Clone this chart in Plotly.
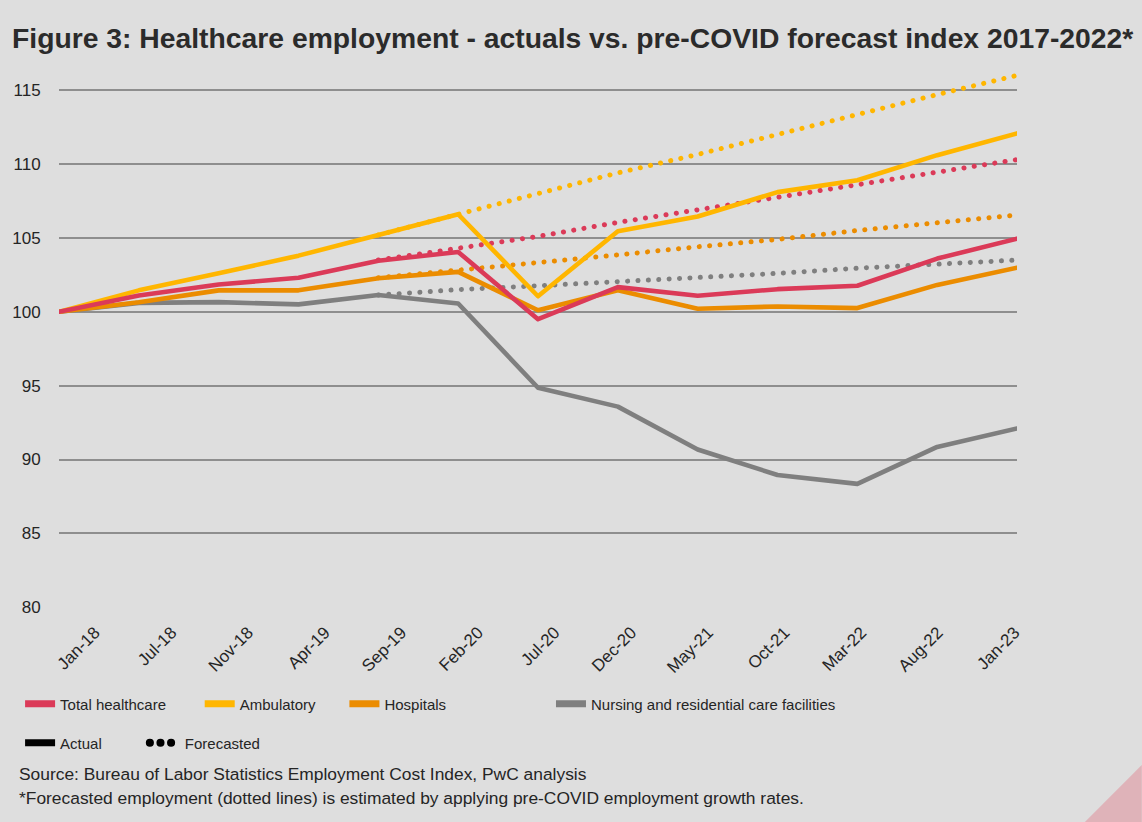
import plotly.graph_objects as go

# ---------------- data ----------------
categories = ["Jan-18", "Jul-18", "Nov-18", "Apr-19", "Sep-19", "Feb-20", "Jul-20",
              "Dec-20", "May-21", "Oct-21", "Mar-22", "Aug-22", "Jan-23"]

total_actual = [100.0, 101.1, 101.85, 102.3, 103.45, 104.05, 99.5, 101.67, 101.08, 101.53, 101.76, 103.6, 104.95]
ambulatory_actual = [100.0, 101.45, 102.6, 103.8, 105.2, 106.6, 101.05, 105.45, 106.45, 108.1, 108.9, 110.6, 112.07]
hospitals_actual = [100.0, 100.65, 101.45, 101.45, 102.27, 102.7, 100.1, 101.45, 100.2, 100.36, 100.25, 101.82, 102.98]
nursing_actual = [100.0, 100.6, 100.65, 100.5, 101.13, 100.56, 94.86, 93.58, 90.68, 88.95, 88.35, 90.85, 92.1]

total_forecast = [None, None, None, None, 103.5, 104.3, 105.1, 106.05, 106.9, 107.75, 108.65, 109.5, 110.3]
ambulatory_forecast = [None, None, None, None, 105.2, 106.6, 108.05, 109.4, 110.65, 112.0, 113.4, 114.7, 116.0]
hospitals_forecast = [None, None, None, None, 102.3, 102.8, 103.3, 103.85, 104.4, 104.9, 105.5, 106.05, 106.55]
nursing_forecast = [None, None, None, None, 101.13, 101.5, 101.76, 102.03, 102.34, 102.6, 102.95, 103.24, 103.5]

series_names = ["Total healthcare", "Ambulatory", "Hospitals", "Nursing and residential care facilities"]
y_ticks = [80, 85, 90, 95, 100, 105, 110, 115]

# ---------------- styling ----------------
RED, YEL, ORG, GRY = "#DB3A58", "#FFB600", "#EB8C00", "#7F7F7F"
BG = "#DEDEDE"
FONT = "Liberation Sans, Arial, Helvetica, sans-serif"
TXT = "#252525"

W, H = 1142, 822
L, R_EDGE = 57, 1030          # paper area (px)
T, B_EDGE = 67.8, 608
PW, PH = R_EDGE - L, B_EDGE - T
X_RIGHT = 1017                # right end of the data area (px)


def px(v):
    return (v - L) / PW


def py(v):
    return (B_EDGE - v) / PH


fig = go.Figure()

n = len(categories)
forecasts = [(nursing_forecast, GRY), (hospitals_forecast, ORG), (ambulatory_forecast, YEL), (total_forecast, RED)]
actuals = [(nursing_actual, GRY, series_names[3]), (hospitals_actual, ORG, series_names[2]),
           (ambulatory_actual, YEL, series_names[1]), (total_actual, RED, series_names[0])]

for vals, col in forecasts:
    fig.add_trace(go.Scatter(x=categories, y=vals, mode="lines", showlegend=False,
                             line=dict(color=col, width=5, dash="0.1px,10.3px"),
                             connectgaps=False, hoverinfo="skip"))
for vals, col, name in actuals:
    fig.add_trace(go.Scatter(x=categories, y=vals, mode="lines", showlegend=False, name=name,
                             line=dict(color=col, width=4.6)))

# legend entries (one legend per entry so they can sit where the reference puts them)
legend_items = [
    (series_names[0], RED, None, "legend", 18, 704),
    (series_names[1], YEL, None, "legend2", 198, 704),
    (series_names[2], ORG, None, "legend3", 343, 704),
    (series_names[3], GRY, None, "legend4", 550, 704),
    ("Actual", "#000000", None, "legend5", 18, 743),
    ("Forecasted", "#000000", "0.1px,10.5px", "legend6", 143, 743),
]
legend_layout = {}
for name, col, dash, lg, lx, ly in legend_items:
    fig.add_trace(go.Scatter(x=[None], y=[None], mode="lines", name=name, legend=lg,
                             line=dict(color=col, width=7 if dash is None else 8, dash=dash),
                             hoverinfo="skip"))
    legend_layout[lg] = dict(x=px(lx), y=py(ly), xanchor="left", yanchor="middle",
                             orientation="h", bgcolor="rgba(0,0,0,0)", borderwidth=0,
                             font=dict(family=FONT, size=15, color=TXT))

# helper trace so the tick-label axis is drawn
fig.add_trace(go.Scatter(x=[None], y=[None], xaxis="x2", yaxis="y2", showlegend=False, hoverinfo="skip"))

# x tick labels axis (labels are spaced slightly tighter than the data points)
E0, S = 93, 76.8
a = -(E0 - L) / S
b = a + PW / S

fig.update_layout(
    width=W, height=H,
    paper_bgcolor=BG, plot_bgcolor="rgba(0,0,0,0)",
    margin=dict(l=L, r=W - R_EDGE, t=T, b=H - B_EDGE, pad=0),
    title=dict(text="Figure 3: Healthcare employment - actuals vs. pre-COVID forecast index 2017-2022*",
               x=12 / W, xref="container", xanchor="left",
               y=1 - 38 / H, yref="container", yanchor="middle",
               font=dict(family=FONT, size=28.3, color="#2b2b2b", weight="bold")),
    xaxis=dict(type="category", range=[0, n - 1], domain=[0, (X_RIGHT - L) / PW],
               showticklabels=False, showgrid=False, zeroline=False, showline=False, ticks=""),
    yaxis=dict(range=[79.95, 116.5], tickvals=y_ticks, showgrid=True, gridcolor="#8E8E8E", gridwidth=1.5,
               zeroline=False, showline=False, ticks="outside", ticklen=14, tickcolor="rgba(0,0,0,0)",
               tickfont=dict(family=FONT, size=17, color=TXT)),
    xaxis2=dict(anchor="y2", domain=[0, 1], range=[a, b], tickvals=list(range(n)), ticktext=categories,
                tickangle=-45, showgrid=False, zeroline=False, showline=False,
                ticks="outside", ticklen=7, tickcolor="rgba(0,0,0,0)",
                tickfont=dict(family=FONT, size=17, color=TXT)),
    yaxis2=dict(anchor="x2", domain=[0, 1], range=[79.95, 116.5], showticklabels=False,
                showgrid=False, zeroline=False, showline=False, ticks=""),
    showlegend=True,
    shapes=[dict(type="path", xref="paper", yref="paper", layer="below", line=dict(width=0),
                 fillcolor="#DFB3B9",
                 path=f"M {px(1142)} {py(765)} L {px(1142)} {py(822)} L {px(1085)} {py(822)} Z")],
    annotations=[
        dict(text="Source: Bureau of Labor Statistics Employment Cost Index, PwC analysis",
             xref="paper", yref="paper", x=px(15), y=py(774), xanchor="left", yanchor="middle",
             showarrow=False, font=dict(family=FONT, size=17.4, color=TXT)),
        dict(text="*Forecasted employment (dotted lines) is estimated by applying pre-COVID employment growth rates.",
             xref="paper", yref="paper", x=px(15), y=py(798), xanchor="left", yanchor="middle",
             showarrow=False, font=dict(family=FONT, size=17.4, color=TXT)),
    ],
    **legend_layout,
)

post = """
var st = document.createElement('style');
st.textContent = 'body{margin:0 !important;background:#DEDEDE;} ' +
  '.scatterlayer .js-line, .legend6 .js-line{stroke-linecap:round !important;stroke-linejoin:round !important;}';
document.head.appendChild(st);
"""

fig.write_html("out.html", post_script=post, config={"displayModeBar": False})
